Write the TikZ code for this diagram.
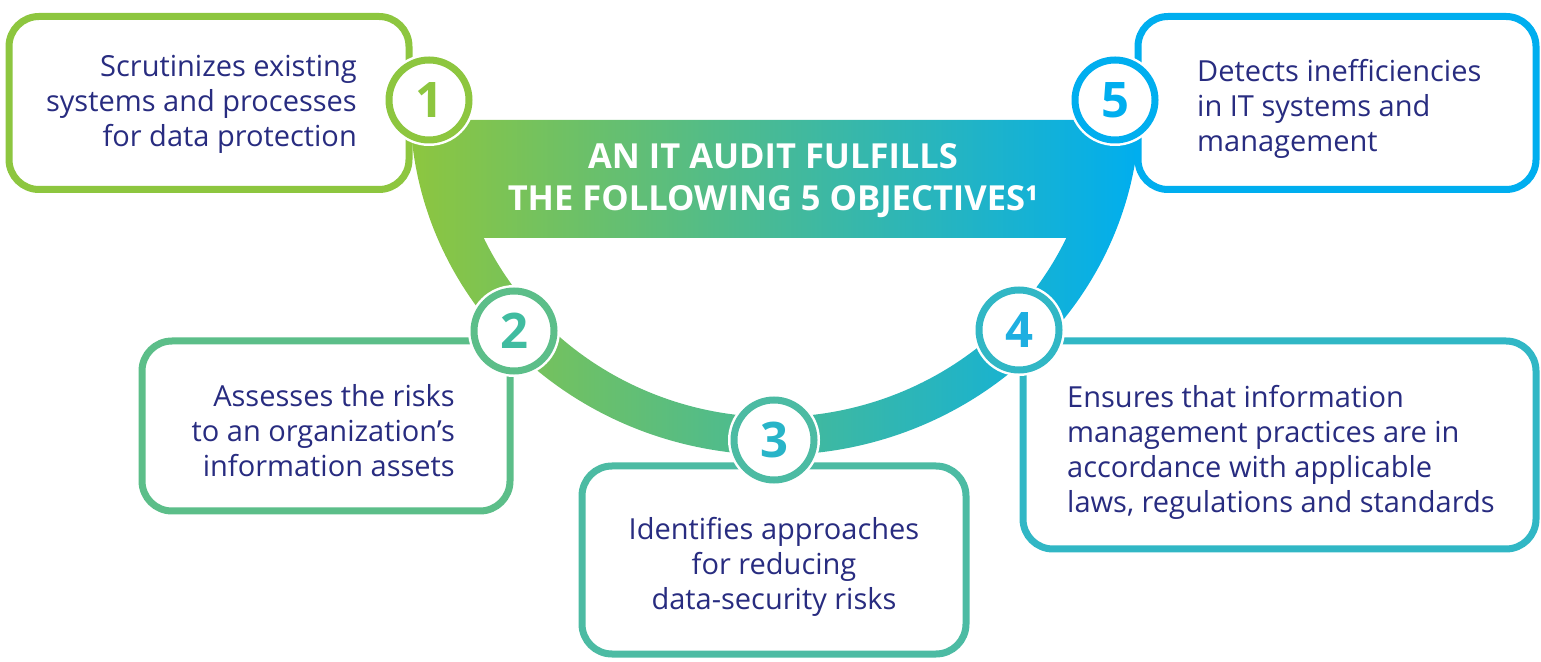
\documentclass[tikz,border=0pt]{standalone}
\usepackage{fontspec}
\setmainfont{Open Sans}
\definecolor{cone}{RGB}{141,198,63}
\definecolor{ctwo}{RGB}{92,190,137}
\definecolor{cthree}{RGB}{76,187,163}
\definecolor{cfour}{RGB}{49,183,197}
\definecolor{cfive}{RGB}{0,174,239}
\definecolor{ntwo}{RGB}{64,188,160}
\definecolor{nthree}{RGB}{40,180,200}
\definecolor{nfour}{RGB}{30,175,225}
\definecolor{cmid}{RGB}{74,187,158}
\definecolor{navy}{RGB}{40,44,128}
\begin{document}
\begin{tikzpicture}[x=1pt,y=1pt,
	box/.style={draw=#1, line width=7pt, rounded corners=30pt, fill=white},
	num/.style={circle, draw=#1, line width=7pt, fill=white, minimum size=80pt, inner sep=0pt,
		preaction={draw=white, line width=12pt},
		font=\fontsize{49}{49}\selectfont\bfseries},
	txt/.style={inner sep=0pt, text=navy, font=\fontsize{29}{35}\selectfont}]
	\useasboundingbox (0,0) rectangle (1541,661);
	% the band behind the title
	\shade[left color=cone, middle color=cmid, right color=cfive, even odd rule]
		(410.3,541) -- (1139.7,541) arc[start angle=-2.456, end angle=-177.544, x radius=365pt, y radius=350pt] -- cycle
		(483.7,423) -- (1066.3,423) arc[start angle=-25.23, end angle=-154.77, x radius=322pt, y radius=312pt] -- cycle;
	\node[white, align=center, font=\fontsize{34.5}{42}\selectfont\bfseries] (title) at (773,480)
		{AN IT AUDIT FULFILLS\\THE FOLLOWING 5 OBJECTIVES¹};
	% boxes
	\node[box=cone, minimum width=400pt, minimum height=173pt] (b1) at (209,558) {};
	\node[box=ctwo, minimum width=368pt, minimum height=170pt] (b2) at (326,235) {};
	\node[box=cthree, minimum width=384pt, minimum height=188pt] (b3) at (774,101) {};
	\node[box=cfour, minimum width=513pt, minimum height=208pt] (b4) at (1279.5,216) {};
	\node[box=cfive, minimum width=398pt, minimum height=173pt] (b5) at (1337,558) {};
	% numbers
	\node[num=cone, text=cone] (n1) at (429,561) {1};
	\node[num=ctwo, text=ntwo] (n2) at (514,330) {2};
	\node[num=cthree, text=nthree] (n3) at (774,221) {3};
	\node[num=cfour, text=nfour] (n4) at (1019,331) {4};
	\node[num=cfive, text=cfive] (n5) at (1115,561) {5};
	% texts
	\node[txt, align=right, anchor=east] (t1) at (357,557) {Scrutinizes existing\\systems and processes\\for data protection};
	\node[txt, align=right, anchor=east] (t2) at (455,230) {Assesses the risks\\to an organization’s\\information assets};
	\node[txt, align=center] (t3) at (774,94) {Identifies approaches\\for reducing\\data-security risks};
	\node[txt, align=left, anchor=west] (t4) at (1067,209) {Ensures that information\\management practices are in\\accordance with applicable\\laws, regulations and standards};
	\node[txt, align=left, anchor=west] (t5) at (1197,552) {Detects inefficiencies\\in IT systems and\\management};
\end{tikzpicture}
\end{document}
